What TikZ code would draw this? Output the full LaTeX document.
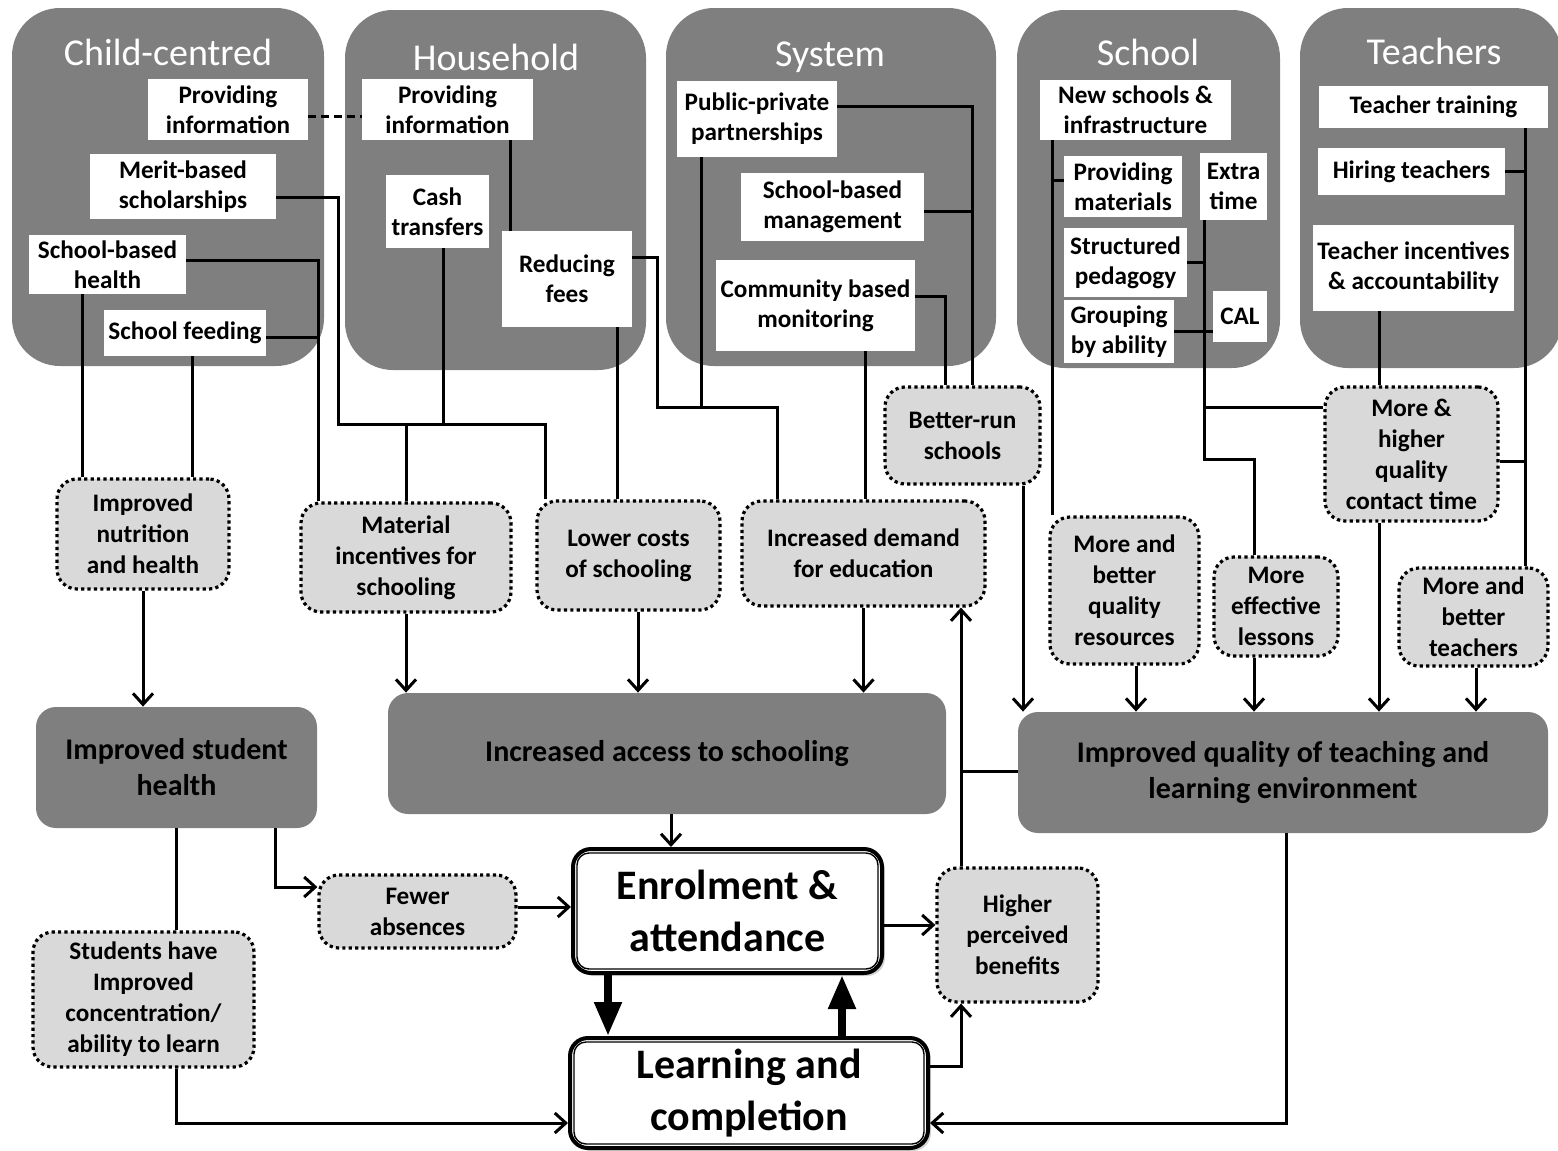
\documentclass[tikz,border=0pt]{standalone}
\usepackage{fontspec}
\setmainfont{Carlito}
\usetikzlibrary{arrows.meta,shadows}
\definecolor{panelg}{RGB}{127,127,127}
\definecolor{dotg}{RGB}{217,217,217}
\newcommand\myIB{\bfseries\fontsize{12.6}{15}\selectfont}
\newcommand\myMB{\bfseries\fontsize{12.6}{15.5}\selectfont}
\newcommand\myOB{\bfseries\fontsize{15}{18}\selectfont}
\newcommand\myKB{\bfseries\fontsize{21}{26}\selectfont}
\newcommand\myTT{\fontsize{19}{22}\selectfont}
% name, style, left, top, right, bottom (pixels), text
\newcommand\placebox[7]{\node[#2, minimum width={(#5-#3)*0.5pt}, minimum height={(#6-#4)*0.5pt}] (#1) at ({(#3+#5)/2},{(#4+#6)/2}) {#7};}
\begin{document}
\begin{tikzpicture}[x=0.5pt,y=-0.5pt,
  panel/.style={fill=panelg, draw=none, rounded corners=24pt, inner sep=0pt},
  ttl/.style={text=white, font=\myTT, anchor=base, inner sep=0pt},
  ibox/.style={fill=white, draw=none, inner sep=0pt, align=center, font=\myIB},
  mbox/.style={fill=dotg, draw=black, line width=1.6pt, dash pattern=on 1.6pt off 1.6pt, rounded corners=10pt, inner sep=0pt, align=center, font=\myMB},
  obox/.style={fill=panelg, draw=none, rounded corners=10pt, inner sep=0pt, align=center, font=\myOB},
  kbox/.style={fill=white, draw=black, line width=2pt, rounded corners=9pt, inner sep=0pt, align=center, font=\myKB, drop shadow={shadow xshift=1.5pt, shadow yshift=-1.5pt, opacity=0.35}},
  ln/.style={line width=1.5pt},
  arr/.style={ln, -{Straight Barb[length=5.5pt,width=10pt]}},
  bigarr/.style={line width=4pt, -{Triangle[length=17pt,width=13pt]}},
]
\useasboundingbox (0,0) rectangle (1558,1151);

% ---- group panels
\placebox{p1}{panel}{12}{8}{324}{366}{}
\placebox{p2}{panel}{345}{10}{646}{370}{}
\placebox{p3}{panel}{666}{8}{996}{366}{}
\placebox{p4}{panel}{1017}{10}{1280}{368}{}
\placebox{p5}{panel}{1300}{8}{1562}{368}{}
\node[ttl] (t1) at (168,65) {Child-centred};
\node[ttl] (t2) at (496,70) {Household};
\node[ttl] (t3) at (830,66) {System};
\node[ttl] (t4) at (1148,65) {School};
\node[ttl] (t5) at (1434,64) {Teachers};

% ---- interventions (white boxes)
\placebox{c_info}{ibox}{148}{79}{308}{140}{Providing\\information}
\placebox{c_merit}{ibox}{90}{154}{276}{219}{Merit-based\\scholarships}
\placebox{c_health}{ibox}{29}{235}{186}{294}{School-based\\health}
\placebox{c_feed}{ibox}{104}{310}{266}{356}{School feeding}
\placebox{h_info}{ibox}{362}{79}{533}{140}{Providing\\information}
\placebox{h_cash}{ibox}{386}{175}{489}{248}{Cash\\transfers}
\placebox{h_fees}{ibox}{502}{231}{632}{327}{Reducing\\fees}
\placebox{s_ppp}{ibox}{677}{81}{837}{157}{Public-private\\partnerships}
\placebox{s_sbm}{ibox}{741}{173}{924}{241}{School-based\\management}
\placebox{s_cbm}{ibox}{716}{260}{915}{351}{Community based\\monitoring}
\placebox{sc_new}{ibox}{1040}{80}{1231}{140}{New schools \&\\infrastructure}
\placebox{sc_mat}{ibox}{1064}{156}{1182}{217}{Providing\\materials}
\placebox{sc_extra}{ibox}{1200}{153}{1267}{220}{Extra\\time}
\placebox{sc_struct}{ibox}{1064}{228}{1187}{297}{Structured\\pedagogy}
\placebox{sc_group}{ibox}{1064}{300}{1174}{363}{Grouping\\by ability}
\placebox{sc_cal}{ibox}{1213}{291}{1267}{342}{CAL}
\placebox{t_train}{ibox}{1319}{86}{1548}{128}{Teacher training}
\placebox{t_hire}{ibox}{1318}{148}{1505}{195}{Hiring teachers}
\placebox{t_inc}{ibox}{1313}{225}{1514}{311}{Teacher incentives\\\& accountability}

% ---- mechanisms (dotted boxes)
\placebox{m_nut}{mbox}{57}{479}{229}{589}{Improved\\nutrition\\and health}
\placebox{m_mat}{mbox}{301}{503}{511}{612}{Material\\incentives for\\schooling}
\placebox{m_cost}{mbox}{537}{501}{720}{610}{Lower costs\\of schooling}
\placebox{m_dem}{mbox}{742}{501}{985}{606}{Increased demand\\for education}
\placebox{m_run}{mbox}{885}{387}{1040}{484}{Better-run\\schools}
\placebox{m_res}{mbox}{1050}{517}{1199}{664}{More and\\better\\quality\\resources}
\placebox{m_eff}{mbox}{1214}{557}{1338}{656}{More\\effective\\lessons}
\placebox{m_contact}{mbox}{1325}{387}{1498}{521}{More \&\\higher\\quality\\contact time}
\placebox{m_teach}{mbox}{1399}{568}{1548}{666}{More and\\better\\teachers}
\placebox{m_fewer}{mbox}{319}{875}{516}{948}{Fewer\\absences}
\placebox{m_conc}{mbox}{33}{932}{254}{1067}{Students have\\Improved\\concentration/\\ability to learn}
\placebox{m_ben}{mbox}{937}{868}{1098}{1002}{Higher\\perceived\\benefits}

% ---- outcomes
\placebox{o_health}{obox}{36}{707}{317}{828}{Improved student\\health}
\placebox{o_access}{obox}{388}{693}{946}{814}{Increased access to schooling}
\placebox{o_quality}{obox}{1018}{712}{1548}{833}{Improved quality of teaching and\\learning environment}

% ---- key outcomes
\placebox{enrol}{kbox}{573}{849}{882}{973}{Enrolment \&\\attendance}
\placebox{learn}{kbox}{570}{1038}{928}{1148}{Learning and\\completion}
\draw[line width=0.7pt, rounded corners=6pt] ([shift={(3pt,3pt)}]enrol.south west) rectangle ([shift={(-3pt,-3pt)}]enrol.north east);
\draw[line width=0.7pt, rounded corners=6pt] ([shift={(3pt,3pt)}]learn.south west) rectangle ([shift={(-3pt,-3pt)}]learn.north east);

% ---- junctions
\coordinate (jA) at (443,424);
\coordinate (jB) at (406,424);
\coordinate (jC) at (318,337);
\coordinate (jD) at (701,407);
\coordinate (jE) at (972,211);
\coordinate (jF) at (1052,180);
\coordinate (jG) at (1204,262);
\coordinate (jH) at (1204,407);
\coordinate (jI) at (1525,171);
\coordinate (jJ) at (1525,461);
\coordinate (jK) at (961,771);

% ---- connectors: child-centred
\draw[ln, dash pattern=on 4pt off 2.5pt] (c_info.east |- 0,116) -- (h_info.west |- 0,116);
\draw[ln] (c_merit.east |- 0,197) -| (338,424) -| (m_cost.north -| 545,0);
\draw[ln] (h_cash.south -| jA) -- (jA);
\draw[ln] (jB) -- (m_mat.north -| jB);
\draw[ln] (c_health.east |- 0,260) -| (m_mat.north -| jC);
\draw[ln] (c_feed.east |- jC) -- (jC);
\draw[ln] (c_health.south -| 82,0) -- (m_nut.north -| 82,0);
\draw[ln] (c_feed.south -| 192,0) -- (m_nut.north -| 192,0);
\draw[arr] (m_nut.south) -- (m_nut.south |- o_health.north);

% ---- household / system
\draw[ln] (h_info.south -| 510,0) -- (h_fees.north -| 510,0);
\draw[ln] (h_fees.south -| 617,0) -- (m_cost.north -| 617,0);
\draw[ln] (h_fees.east |- 0,257) -| (657,407) -| (m_dem.north -| 777,0);
\draw[ln] (s_ppp.south -| jD) -- (jD);
\draw[arr] (m_mat.south) -- (m_mat.south |- o_access.north);
\draw[arr] (m_cost.south -| 638,0) -- (o_access.north -| 638,0);
\draw[arr] (m_dem.south) -- (m_dem.south |- o_access.north);
\draw[ln] (s_cbm.south -| 865,0) -- (m_dem.north -| 865,0);
\draw[ln] (s_ppp.east |- 0,106) -| (m_run.north -| jE);
\draw[ln] (s_sbm.east |- jE) -- (jE);
\draw[ln] (s_cbm.east |- 0,296) -| (m_run.north -| 945,0);
\draw[arr] (m_run.south -| 1023,0) -- (o_quality.north -| 1023,0);

% ---- school
\draw[ln] (sc_new.south -| jF) -- (m_res.north -| jF);
\draw[ln] (sc_mat.west |- jF) -- (jF);
\draw[arr] (m_res.south -| 1136,0) -- (o_quality.north -| 1136,0);
\draw[ln] (sc_extra.south -| jG) |- (1254,459) -- (m_eff.north -| 1254,0);
\draw[ln] (sc_struct.east |- jG) -- (jG);
\draw[ln] (sc_group.east |- 0,331) -- (sc_cal.west |- 0,331);
\draw[ln] (jH) -- (m_contact.west |- jH);
\draw[arr] (m_eff.south -| 1254,0) -- (o_quality.north -| 1254,0);

% ---- teachers
\draw[ln] (t_train.south -| jI) -- (m_teach.north -| jI);
\draw[ln] (t_hire.east |- jI) -- (jI);
\draw[ln] (m_contact.east |- jJ) -- (jJ);
\draw[ln] (t_inc.south -| 1379,0) -- (m_contact.north -| 1379,0);
\draw[arr] (m_contact.south -| 1379,0) -- (o_quality.north -| 1379,0);
\draw[arr] (m_teach.south -| 1476,0) -- (o_quality.north -| 1476,0);

% ---- bottom
\draw[arr] (o_access.south -| 671,0) -- (enrol.north -| 671,0);
\draw[arr] (o_health.south -| 275,0) |- (m_fewer.west |- 0,887);
\draw[ln] (o_health.south -| 176,0) -- (m_conc.north -| 176,0);
\draw[arr] (m_fewer.east |- 0,907) -- (enrol.west |- 0,907);
\draw[arr] (enrol.east |- 0,925) -- (m_ben.west |- 0,925);
\draw[arr] (learn.east |- 0,1066) -| (m_ben.south -| jK);
\draw[arr] (m_ben.north -| jK) -- (m_dem.south -| jK);
\draw[ln] (o_quality.west |- jK) -- (jK);
\draw[bigarr] (enrol.south -| 608,0) -- (learn.north -| 608,0);
\draw[bigarr] (learn.north -| 842,0) -- (enrol.south -| 842,0);
\draw[arr] (m_conc.south -| 176,0) |- (learn.west |- 0,1123);
\draw[arr] (o_quality.south -| 1286,0) |- (learn.east |- 0,1123);
\end{tikzpicture}
\end{document}
